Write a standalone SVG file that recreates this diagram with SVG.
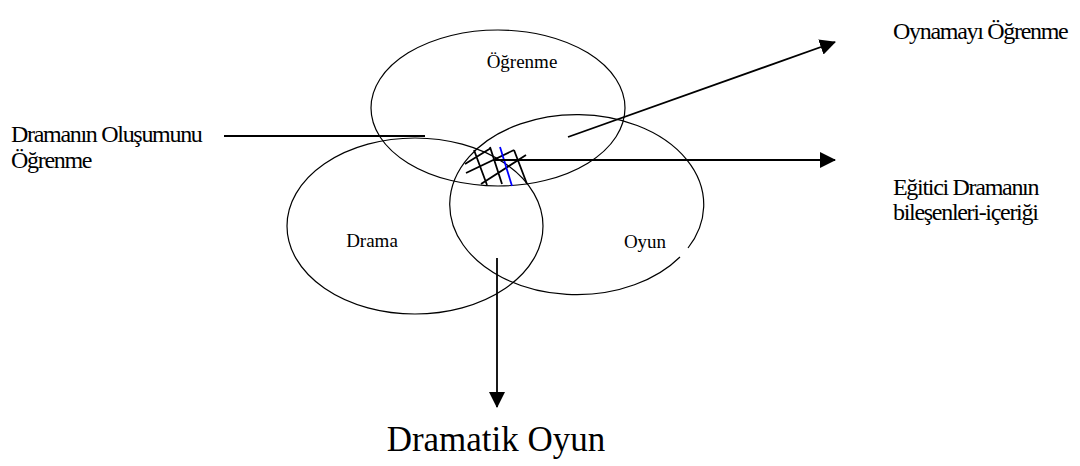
<svg xmlns="http://www.w3.org/2000/svg" width="1080" height="466" viewBox="0 0 1080 466">
<defs>
<style>
.c{fill:none;stroke:#000;stroke-width:1.2}
.l{fill:none;stroke:#000;stroke-width:1.8}
.t{font-family:"Liberation Serif","Times New Roman",serif;fill:#000}
.s{font-size:19px}
.lab{font-size:24px;letter-spacing:-1.3px}
</style>
<marker id="ah2" markerWidth="16" markerHeight="16" refX="15" refY="8" orient="auto" markerUnits="userSpaceOnUse" viewBox="0 0 16 16">
<path d="M0,0 L16,8 L0,16 z" fill="#000"/>
</marker>
</defs>
<rect width="1080" height="466" fill="#fff"/>
<g id="ogrenme">
<ellipse class="c" cx="498" cy="108" rx="127" ry="78"/>
<text class="t s" x="522" y="68" text-anchor="middle">Öğrenme</text>
</g>
<g id="drama">
<ellipse class="c" cx="415" cy="226" rx="128" ry="88"/>
<text class="t s" x="372" y="247" text-anchor="middle">Drama</text>
</g>
<g id="oyun">
<path class="c" d="M688,248 A127,90 0 1 0 680,257"/>
<text class="t s" x="645" y="248" text-anchor="middle">Oyun</text>
</g>
<g id="hatch" fill="none" stroke="#000" stroke-width="1.8">
<path d="M474,150 L487,185 M490,147 L502,184 M514,150 L527,184 M465,164 L491,148 M466,173 L514,150 M481,184 L526,155"/>
<path d="M500,147 L512,186" stroke="#0000ff"/>
</g>
<g id="connectors">
<line class="l" x1="224" y1="136" x2="425" y2="136"/>
<line class="l" x1="495" y1="160" x2="835" y2="160" marker-end="url(#ah2)"/>
<line class="l" x1="568" y1="137" x2="835" y2="42" marker-end="url(#ah2)"/>
<line class="l" x1="497" y1="258" x2="497" y2="407" marker-end="url(#ah2)"/>
</g>
<g id="label-olusum">
<text class="t lab" x="11" y="142">Dramanın Oluşumunu</text>
<text class="t lab" x="11" y="168">Öğrenme</text>
</g>
<g id="label-oynamayi">
<text class="t lab" x="893" y="39">Oynamayı Öğrenme</text>
</g>
<g id="label-egitici">
<text class="t lab" x="893" y="195">Eğitici Dramanın</text>
<text class="t lab" x="893" y="220">bileşenleri-içeriği</text>
</g>
<g id="label-dramatik">
<text class="t" font-size="35" x="496" y="451" text-anchor="middle">Dramatik Oyun</text>
</g>
</svg>
